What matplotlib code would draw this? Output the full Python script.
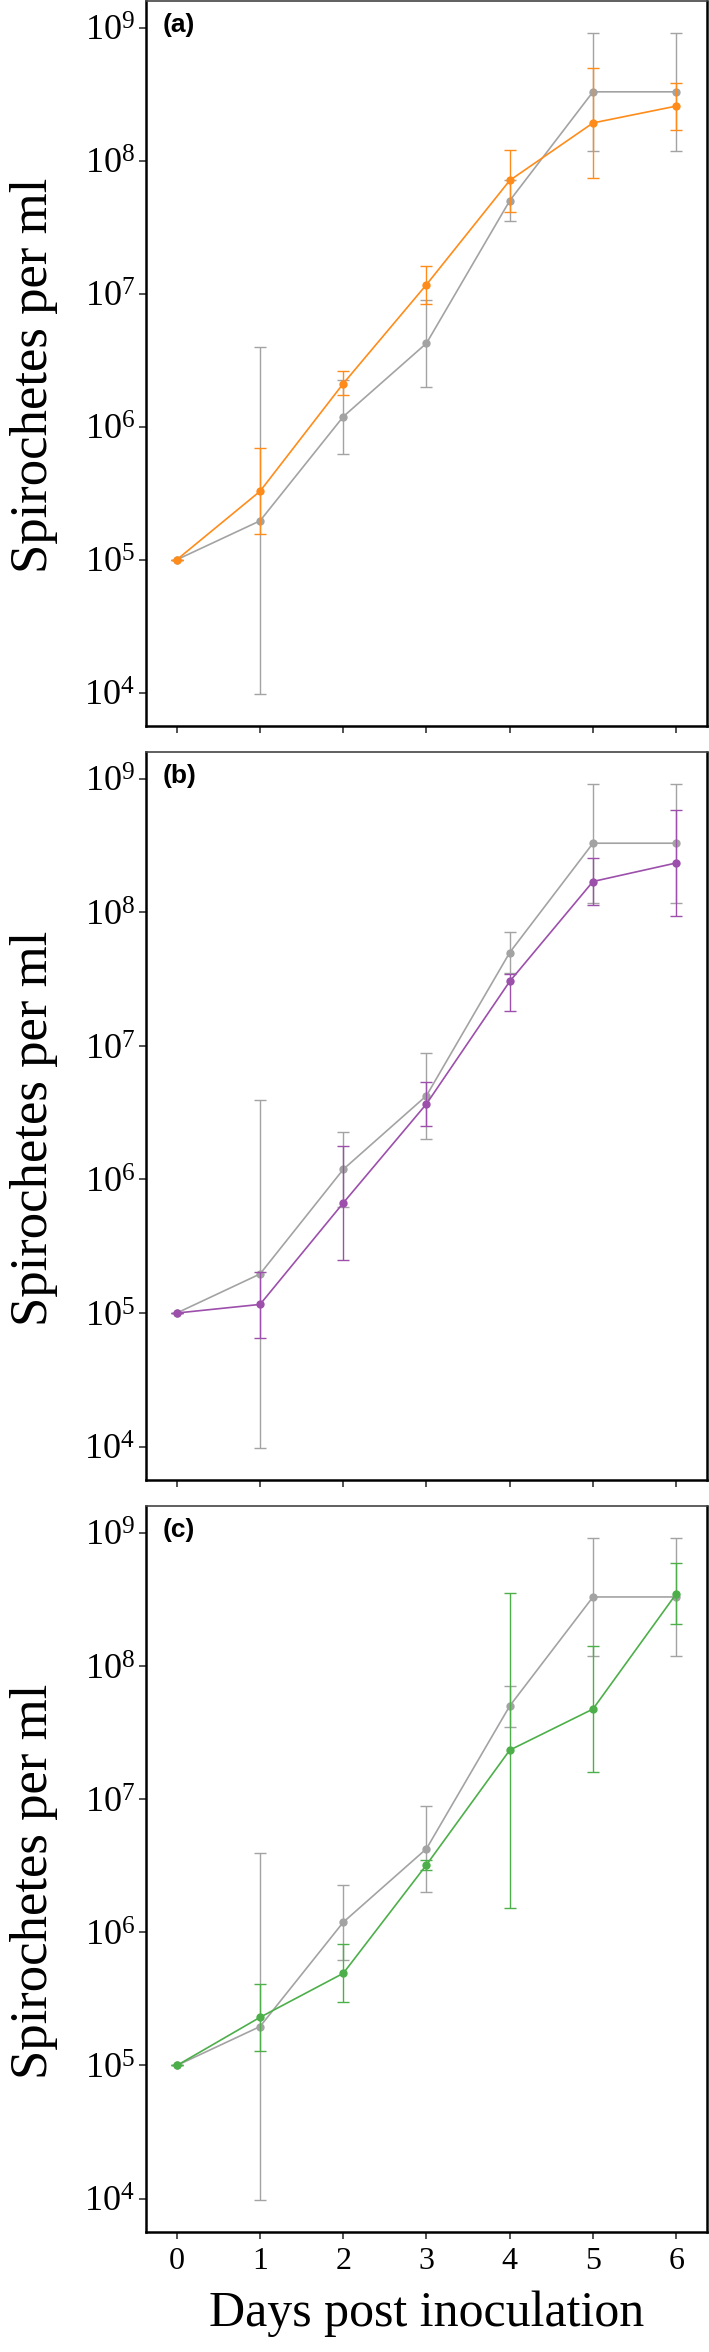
import matplotlib
matplotlib.use("Agg")
import matplotlib.pyplot as plt
import numpy as np

plt.rcParams['mathtext.fontset'] = 'custom'
plt.rcParams['mathtext.rm'] = 'Liberation Serif'
plt.rcParams['mathtext.it'] = 'Liberation Serif:italic'

days = [0, 1, 2, 3, 4, 5, 6]

# control (gray), same in every panel
ctrl_mean = [1.0e5, 1.96e5, 1.19e6, 4.24e6, 5.0e7, 3.29e8, 3.29e8]
ctrl_low = [1.0e5, 9.8e3, 6.2e5, 2.0e6, 3.5e7, 1.18e8, 1.18e8]
ctrl_high = [1.0e5, 3.95e6, 2.25e6, 8.9e6, 7.1e7, 9.1e8, 9.1e8]

# panel (a) orange
a_mean = [1.0e5, 3.27e5, 2.11e6, 1.17e7, 7.1e7, 1.92e8, 2.57e8]
a_low = [1.0e5, 1.55e5, 1.72e6, 8.4e6, 4.1e7, 7.45e7, 1.69e8]
a_high = [1.0e5, 6.9e5, 2.61e6, 1.62e7, 1.2e8, 4.97e8, 3.86e8]

# panel (b) purple
b_mean = [1.0e5, 1.16e5, 6.67e5, 3.68e6, 3.04e7, 1.70e8, 2.34e8]
b_low = [1.0e5, 6.46e4, 2.51e5, 2.53e6, 1.81e7, 1.14e8, 9.4e7]
b_high = [1.0e5, 2.04e5, 1.79e6, 5.34e6, 3.45e7, 2.55e8, 5.87e8]

# panel (c) green
c_mean = [1.0e5, 2.30e5, 4.92e5, 3.21e6, 2.33e7, 4.74e7, 3.47e8]
c_low = [1.0e5, 1.28e5, 2.98e5, 2.92e6, 1.53e6, 1.6e7, 2.05e8]
c_high = [1.0e5, 4.06e5, 8.1e5, 3.5e6, 3.54e8, 1.41e8, 5.9e8]

panel_labels = ["(a)", "(b)", "(c)"]
colors = ["#FF8C1A", "#9C4FAB", "#4DAF4A"]
gray = "#A3A3A3"
ytick_vals = [1e4, 1e5, 1e6, 1e7, 1e8, 1e9]
ytick_labels = [r"$10^{4}$", r"$10^{5}$", r"$10^{6}$", r"$10^{7}$", r"$10^{8}$", r"$10^{9}$"]

W, H = 709, 2352
fig = plt.figure(figsize=(W / 100, H / 100), dpi=100)

left, right = 146, 707
tops = [1, 752, 1506]
bottoms = [726, 1480, 2232]

series = [(a_mean, a_low, a_high), (b_mean, b_low, b_high), (c_mean, c_low, c_high)]


def draw(ax, mean, low, high, color, z):
    m = np.array(mean)
    lo = m - np.array(low)
    hi = np.array(high) - m
    line, caps, bars = ax.errorbar(days, m, yerr=[lo, hi], color=color, lw=1.2,
                                   elinewidth=1.0, capsize=4.5, capthick=1.0,
                                   marker='o', markersize=6, markeredgewidth=0,
                                   zorder=z)
    for c in caps:
        c.set_markeredgewidth(1.0)
        c.set_markeredgecolor(color)


for i in range(3):
    ax = fig.add_axes([left / W, 1 - bottoms[i] / H, (right - left) / W,
                       (bottoms[i] - tops[i]) / H])
    ax.set_yscale('log')
    draw(ax, ctrl_mean, ctrl_low, ctrl_high, gray, 2)
    mean, low, high = series[i]
    draw(ax, mean, low, high, colors[i], 3)
    ax.set_xlim(-0.37, 6.37)
    ax.set_ylim(10 ** 3.75, 10 ** 9.2)
    ax.set_yticks(ytick_vals)
    ax.set_yticklabels(ytick_labels)
    ax.yaxis.set_minor_locator(matplotlib.ticker.NullLocator())
    ax.set_xticks(days)
    if i == 2:
        ax.set_xticklabels([str(d) for d in days], fontfamily='Liberation Serif', fontsize=23)
        ax.set_xlabel("Days post inoculation", fontfamily='Liberation Serif', fontsize=36, labelpad=10)
    else:
        ax.set_xticklabels([])
    ax.tick_params(axis='y', labelsize=26, length=5, width=1.2, color='#333333', pad=3)
    ax.tick_params(axis='x', length=5, width=1.2, color='#333333', pad=6)
    ax.set_ylabel("Spirochetes per ml", fontfamily='Liberation Serif', fontsize=38)
    ax.yaxis.set_label_coords((58 - left) / (right - left), 0.4835)
    for s in ['left', 'bottom', 'right']:
        ax.spines[s].set_linewidth(1.8)
        ax.spines[s].set_color('black')
    ax.spines['top'].set_linewidth(1.2)
    ax.spines['top'].set_color('#444444')
    ax.text(0.030, 0.983, panel_labels[i], transform=ax.transAxes, ha='left', va='top',
            fontfamily='Liberation Sans', fontweight='bold', fontsize=19)

fig.savefig("out.png", dpi=100)
